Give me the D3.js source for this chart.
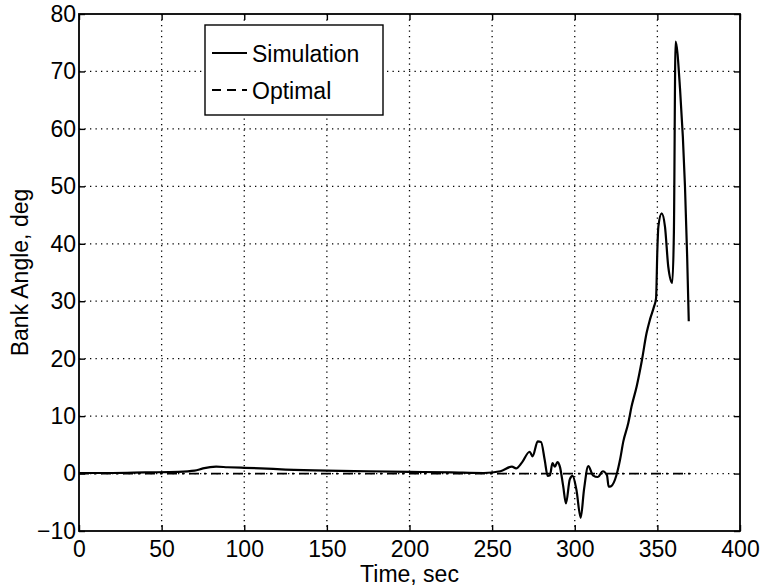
<!DOCTYPE html>
<html>
<head>
<meta charset="utf-8">
<script src="https://cdn.jsdelivr.net/npm/d3@7"></script>
<style>
  body { margin: 0; background: #fff; }
  svg text { font-family: "Liberation Sans", Arial, sans-serif; fill: #000; }
</style>
</head>
<body>
<svg id="chart" width="761" height="588"></svg>
<script>
// data
var simTime = [0, 20, 40, 60, 70, 75, 83, 90, 100, 110, 125, 150, 175, 200, 225, 245,
  255, 262, 264.5, 268, 272.7, 274.5, 277.6, 279.6, 281.8, 283.6, 285, 286.5, 288, 289.5, 291,
  293, 294.7, 297, 298.7, 301, 303.6, 305.6, 308.2, 311, 314, 317, 319.5, 320.5, 322,
  325.3, 327.4, 329.4, 332.4, 334.4, 337.5, 340.5, 343.5, 345.5, 348, 349.2, 350, 350.6,
  352.6, 354.6, 356.6, 359, 360, 361, 363.7, 366.7, 368, 369]
var simAngle = [0.1, 0.1, 0.2, 0.3, 0.5, 0.9, 1.2, 1.1, 1.0, 0.9, 0.7, 0.5, 0.4, 0.3, 0.2, 0.1,
  0.4, 1.2, 0.9, 1.9, 3.8, 3.0, 5.6, 5.5, 2.4, -0.4, -0.3, 1.8, 1.2, 2.0, 1.2,
  -2.2, -5.2, -1.0, -0.4, -2.8, -7.7, -2.8, 1.3, -0.3, -0.6, 0.4, -0.3, -2.3, -2.2,
  -0.2, 2.4, 5.6, 8.8, 11.7, 15.2, 19.5, 24.5, 26.8, 29.1, 30.5, 39, 43,
  45.3, 43, 36, 33.2, 42, 75.2, 67, 50, 38, 26.5]
var optTime = [0, 370]
var optAngle = [0, 0]
var xTicks = [0, 50, 100, 150, 200, 250, 300, 350, 400]
var yTicks = [-10, 0, 10, 20, 30, 40, 50, 60, 70, 80]
var legendNames = ["Simulation", "Optimal"]

// plot box (window.top is read-only, so no plain "top")
var pL = 79, pR = 740, pT = 14, pB = 531
var svg = d3.select("#chart")

var x = d3.scaleLinear().domain([0, 400]).range([pL, pR])
var y = d3.scaleLinear().domain([-10, 80]).range([pB, pT])

// dotted grid
var grid = svg.append("g")
grid.selectAll("line.gx")
  .data(xTicks.slice(1, -1))
  .enter().append("line").attr("class", "gx")
  .attr("x1", d => x(d)).attr("x2", d => x(d))
  .attr("y1", pT).attr("y2", pB)
grid.selectAll("line.gy")
  .data(yTicks.slice(1, -1))
  .enter().append("line").attr("class", "gy")
  .attr("y1", d => y(d)).attr("y2", d => y(d))
  .attr("x1", pL).attr("x2", pR)
grid.selectAll("line")
  .attr("stroke", "#000").attr("stroke-width", 1.3)
  .attr("stroke-dasharray", "1.3,4.2")

// axes, ticks pointing inward on all four sides
function styleAxis(g) {
  g.select(".domain").remove()
  g.selectAll(".tick line").attr("stroke", "#000").attr("stroke-width", 1.4)
  g.selectAll("text").style("font-size", "23px")
}
svg.append("g").attr("transform", "translate(0," + pB + ")")
  .call(d3.axisBottom(x).tickValues(xTicks).tickSizeInner(-6).tickPadding(10))
  .call(styleAxis)
svg.append("g").attr("transform", "translate(0," + pT + ")")
  .call(d3.axisTop(x).tickValues(xTicks).tickSizeInner(-6).tickFormat(""))
  .call(styleAxis)
svg.append("g").attr("transform", "translate(" + pL + ",0)")
  .call(d3.axisLeft(y).tickValues(yTicks).tickSizeInner(-6).tickPadding(3))
  .call(styleAxis)
svg.append("g").attr("transform", "translate(" + pR + ",0)")
  .call(d3.axisRight(y).tickValues(yTicks).tickSizeInner(-6).tickFormat(""))
  .call(styleAxis)

svg.append("rect")
  .attr("x", pL).attr("y", pT)
  .attr("width", pR - pL).attr("height", pB - pT)
  .attr("fill", "none").attr("stroke", "#000").attr("stroke-width", 1.8)

// curves
var optLine = d3.line().x((d, i) => x(optTime[i])).y(d => y(d))
svg.append("path")
  .attr("d", optLine(optAngle))
  .attr("fill", "none").attr("stroke", "#000").attr("stroke-width", 1.8)
  .attr("stroke-dasharray", "10,5,2,5")

var simLine = d3.line()
  .x((d, i) => x(simTime[i])).y(d => y(d))
  .curve(d3.curveMonotoneX)
svg.append("path")
  .attr("d", simLine(simAngle))
  .attr("fill", "none").attr("stroke", "#000").attr("stroke-width", 2.2)

// labels
svg.append("text")
  .attr("x", (pL + pR) / 2).attr("y", 582)
  .attr("text-anchor", "middle").style("font-size", "23px")
  .text("Time, sec")
svg.append("text")
  .attr("transform", "translate(28," + (pT + pB) / 2 + ") rotate(-90)")
  .attr("text-anchor", "middle").style("font-size", "23px")
  .text("Bank Angle, deg")

// legend
var lg = svg.append("g")
lg.append("rect")
  .attr("x", 205).attr("y", 25).attr("width", 178).attr("height", 90)
  .attr("fill", "#fff").attr("stroke", "#000").attr("stroke-width", 1.4)
lg.selectAll("line.item")
  .data(legendNames)
  .enter().append("line").attr("class", "item")
  .attr("x1", 212).attr("x2", 247)
  .attr("y1", (d, i) => 53 + i * 37).attr("y2", (d, i) => 53 + i * 37)
  .attr("stroke", "#000").attr("stroke-width", 1.8)
  .attr("stroke-dasharray", (d, i) => i ? "9,6" : null)
lg.selectAll("text")
  .data(legendNames)
  .enter().append("text")
  .attr("x", 252).attr("y", (d, i) => 62 + i * 37)
  .style("font-size", "23px")
  .text(d => d)
</script>
</body>
</html>
